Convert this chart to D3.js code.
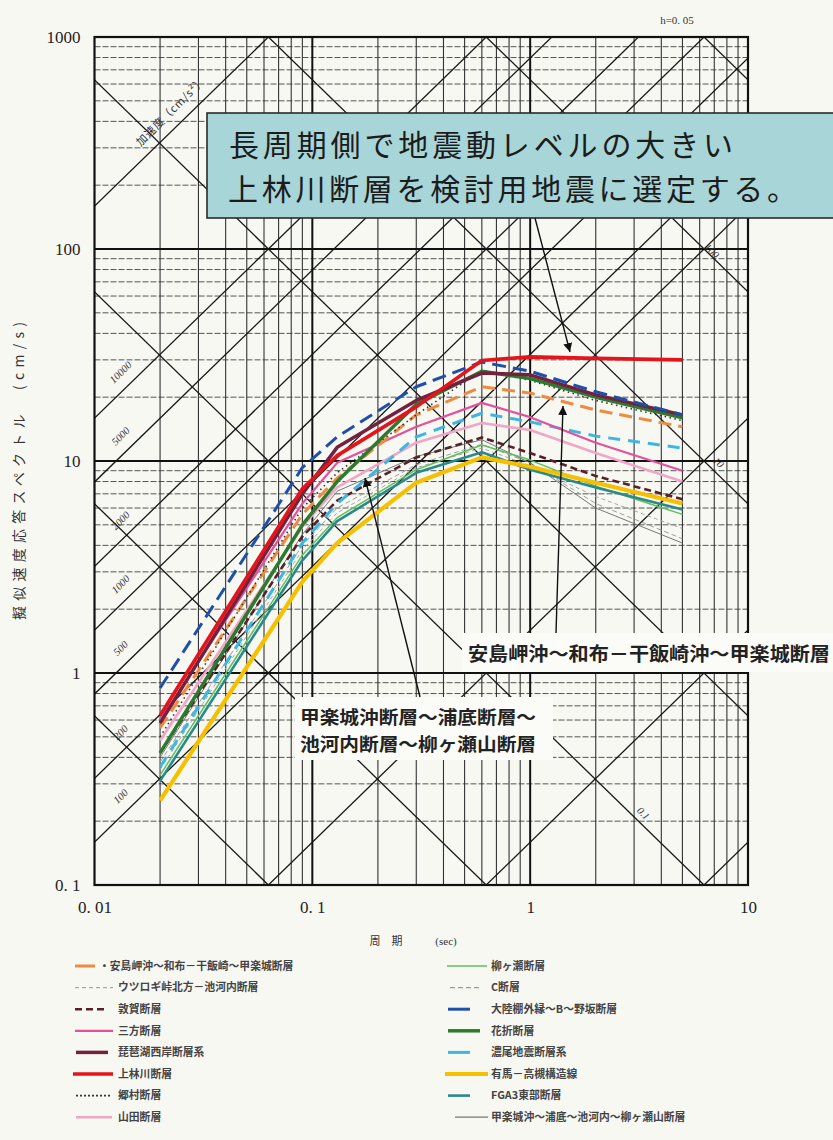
<!DOCTYPE html>
<html><head><meta charset="utf-8">
<script src="https://cdn.jsdelivr.net/npm/d3@7"></script>
<style>
body{margin:0;background:#f8f8f3;}
svg{display:block;}
</style>
</head><body>
<svg id="c" width="833" height="1140"></svg>
<script>
// ---------------- DATA ----------------
const periods = [0.02, 0.09, 0.13, 0.3, 0.6, 1.0, 2.0, 5.0];   // sec (control points)

const sv_anshima   = [0.55, 5.6, 8.3, 16.5, 22.4, 20.9, 17.4, 14.5]; // 安島岬沖～和布－干飯崎～甲楽城断層
const sv_utsurogi  = [0.35, 3.8, 5.7, 9.3, 11.5, 9.5, 6.8, 4.8];    // ウツロギ峠北方－池河内断層
const sv_tsuruga   = [0.42, 4.4, 6.5, 10.4, 12.9, 10.9, 8.5, 6.6];  // 敦賀断層
const sv_mikata    = [0.60, 6.3, 9.8, 14.5, 18.8, 16.1, 12.2, 9.0]; // 三方断層
const sv_biwako    = [0.58, 7.0, 11.6, 19.3, 26.0, 25.5, 20.5, 16.5]; // 琵琶湖西岸断層系
const sv_kambayashi= [0.63, 7.4, 10.6, 18.0, 29.8, 31.0, 30.5, 30.0]; // 上林川断層
const sv_gomura    = [0.50, 6.0, 8.8, 16.5, 26.8, 24.0, 19.3, 15.5]; // 郷村断層
const sv_yamada    = [0.48, 4.9, 7.5, 12.2, 15.1, 14.0, 10.9, 8.0]; // 山田断層
const sv_yanagase  = [0.33, 3.6, 5.4, 9.1, 11.9, 10.1, 7.6, 5.6];   // 柳ヶ瀬断層
const sv_c         = [0.38, 4.0, 6.0, 9.6, 12.0, 9.8, 6.3, 4.3];    // C断層
const sv_tairiku   = [0.85, 9.3, 13.0, 22.4, 29.3, 26.5, 21.2, 16.5]; // 大陸棚外縁～B～野坂断層
const sv_hanaore   = [0.42, 5.0, 8.0, 18.5, 26.5, 24.5, 20.0, 16.0]; // 花折断層
const sv_nobi      = [0.36, 4.1, 6.3, 13.0, 16.8, 15.3, 13.1, 11.5]; // 濃尾地震断層系
const sv_arima     = [0.25, 2.7, 4.1, 7.9, 10.4, 9.4, 7.9, 6.3];    // 有馬－高槻構造線
const sv_fga3      = [0.31, 3.4, 5.2, 8.8, 11.0, 9.1, 7.5, 5.9];    // FGA3東部断層
const sv_kouragi   = [0.40, 4.5, 7.2, 10.5, 12.6, 9.8, 6.0, 4.1];   // 甲楽城沖～浦底～池河内～柳ヶ瀬山断層

const legendNames = [
  "・安島岬沖～和布－干飯崎～甲楽城断層","ウツロギ峠北方－池河内断層","敦賀断層","三方断層",
  "琵琶湖西岸断層系","上林川断層","郷村断層","山田断層",
  "柳ヶ瀬断層","C断層","大陸棚外縁～B～野坂断層","花折断層",
  "濃尾地震断層系","有馬－高槻構造線","FGA3東部断層","甲楽城沖～浦底～池河内～柳ヶ瀬山断層"
];

const xTickValues = [0.01, 0.1, 1, 10];
const xTickLabels = ["0. 01", "0. 1", "1", "10"];
const yTickValues = [0.1, 1, 10, 100, 1000];
const yTickLabels = ["0. 1", "1", "10", "100", "1000"];

const accelLines = [0.1, 1, 10, 100, 200, 500, 1000, 2000, 5000, 10000, 100000]; // cm/s2
const accelLabelValues = [100, 200, 500, 1000, 2000, 5000, 10000];
const dispLines = [0.001, 0.01, 0.1, 1, 10, 100, 1000];  // cm
const dispLabelValues = [0.1, 10, 100];
const dispLabelTexts = ["0.1", "10", "100"];

// ---------------- STYLES ----------------
const seriesData = [sv_anshima, sv_utsurogi, sv_tsuruga, sv_mikata, sv_biwako, sv_kambayashi, sv_gomura, sv_yamada,
                    sv_yanagase, sv_c, sv_tairiku, sv_hanaore, sv_nobi, sv_arima, sv_fga3, sv_kouragi];
const styles = [
  {c:"#ef8a3e", w:3,   d:"13,7",  lw:[75,95],   ld:null},
  {c:"#a8a8a8", w:1,   d:"4,3",   lw:[75,113],  ld:"4,3"},
  {c:"#5a2028", w:2.6, d:"7,4",   lw:[75,108],  ld:"7,4"},
  {c:"#e4519a", w:2.2, d:null,    lw:[75,113],  ld:null},
  {c:"#74203f", w:3.5, d:null,    lw:[76,108],  ld:null},
  {c:"#e5141b", w:3.6, d:null,    lw:[73,113],  ld:null},
  {c:"#333333", w:1.6, d:"1.5,3.5", lw:[76,110], ld:"2,2"},
  {c:"#f0a6c6", w:2.6, d:null,    lw:[76,112],  ld:null},
  {c:"#5fbf5f", w:1.5, d:null,    lw:[447,487], ld:null},
  {c:"#9c9c9c", w:1,   d:"5,3",   lw:[450,482], ld:"5,3"},
  {c:"#1f4fa8", w:3,   d:"14,7",  lw:[448,470], ld:null},
  {c:"#2c7a30", w:3.5, d:null,    lw:[448,480], ld:null},
  {c:"#3db6e0", w:3,   d:"12,8",  lw:[448,470], ld:null},
  {c:"#f4c000", w:4.2, d:null,    lw:[445,488], ld:null},
  {c:"#2a8a8a", w:2.6, d:null,    lw:[448,470], ld:null},
  {c:"#777777", w:1,   d:null,    lw:[455,488], ld:null}
];
// draw order (bottom to top)
const drawOrder = [1,9,15,2,8,14,13,7,12,3,0,6,11,4,10,5];

// ---------------- CHART ----------------
const svg = d3.select("#c");
svg.append("rect").attr("width",833).attr("height",1140).attr("fill","#f8f8f3");

const x = d3.scaleLog().domain([0.01, 10]).range([94.5, 748]);
const y = d3.scaleLog().domain([0.1, 1000]).range([885, 37]);
const [X0, X1] = x.range();
const [Y0, Y1] = y.range(); // Y0 bottom, Y1 top

const defs = svg.append("defs");
defs.append("clipPath").attr("id","pc")
  .append("rect").attr("x",X0).attr("y",Y1).attr("width",X1-X0).attr("height",Y0-Y1);

const grid = svg.append("g").attr("clip-path","url(#pc)");

// horizontal minor grid (dashed)
const hMinor = [];
[0.1,1,10,100].forEach(d=>{for(let k=2;k<=9;k++) hMinor.push(k*d);});
grid.selectAll(".hm").data(hMinor).join("line")
  .attr("x1",X0).attr("x2",X1).attr("y1",d=>y(d)).attr("y2",d=>y(d))
  .attr("stroke","#555").attr("stroke-width",1).attr("stroke-dasharray","6,2");
// vertical minor grid
const vMinor = [];
[0.01,0.1,1].forEach(d=>{for(let k=2;k<=9;k++) vMinor.push(k*d);});
grid.selectAll(".vm").data(vMinor).join("line")
  .attr("x1",d=>x(d)).attr("x2",d=>x(d)).attr("y1",Y0).attr("y2",Y1)
  .attr("stroke","#333").attr("stroke-width",1.1);
// major grid
grid.selectAll(".hM").data([1,10,100]).join("line")
  .attr("x1",X0).attr("x2",X1).attr("y1",d=>y(d)).attr("y2",d=>y(d))
  .attr("stroke","#111").attr("stroke-width",2);
grid.selectAll(".vM").data([0.1,1]).join("line")
  .attr("x1",d=>x(d)).attr("x2",d=>x(d)).attr("y1",Y0).attr("y2",Y1)
  .attr("stroke","#111").attr("stroke-width",2);

// diagonal tripartite lines
const TW = 2*Math.PI;
const tA = 0.001, tB = 100;
grid.selectAll(".acc").data(accelLines).join("line")
  .attr("x1",x(tA)).attr("x2",x(tB))
  .attr("y1",A=>y(A*tA/TW)).attr("y2",A=>y(A*tB/TW))
  .attr("stroke","#151515").attr("stroke-width",1.3);
grid.selectAll(".dsp").data(dispLines).join("line")
  .attr("x1",x(tA)).attr("x2",x(tB))
  .attr("y1",D=>y(D*TW/tA)).attr("y2",D=>y(D*TW/tB))
  .attr("stroke","#151515").attr("stroke-width",1.3);

// diagonal labels
const labG = svg.append("g").attr("font-family","'Liberation Serif', serif").attr("font-style","italic")
  .attr("font-size",10.5).attr("fill","#333").attr("text-anchor","middle");
accelLabelValues.forEach(A=>{
  const px = 131, T = x.invert(px), py = y(A*T/TW);
  labG.append("text").attr("transform",`translate(${px-10.5},${py-10.5}) rotate(-45)`)
    .attr("dy","0.35em").text(A);
});
{
  const px = 181, T = x.invert(px), py = y(100000*T/TW);
  labG.append("text").attr("transform",`translate(${px-10.5},${py-10.5}) rotate(-45)`)
    .attr("dy","0.35em").attr("font-family","'Noto Sans CJK JP'").attr("font-style","normal").attr("font-size",11)
    .attr("textLength",92).attr("lengthAdjust","spacing")
    .text("加速度（cm/s²）");
}
dispLabelValues.forEach((D,i)=>{
  const px = [637,712,709][i], T = x.invert(px), py = y(D*TW/T);
  const off = [6.5,6.5,3][i];
  labG.append("text").attr("transform",`translate(${px+off},${py-off}) rotate(45)`)
    .attr("dy","0.35em").text(dispLabelTexts[i]);
});

// curves
const line = d3.line().x(d=>x(d[0])).y(d=>y(d[1]));
const curveG = svg.append("g").attr("clip-path","url(#pc)").attr("fill","none")
  .attr("stroke-linejoin","round");
drawOrder.forEach(i=>{
  const s = styles[i];
  curveG.append("path").datum(periods.map((t,j)=>[t, seriesData[i][j]]))
    .attr("d",line).attr("stroke",s.c).attr("stroke-width",s.w)
    .attr("stroke-dasharray",s.d);
});

// frame
svg.append("rect").attr("x",X0).attr("y",Y1).attr("width",X1-X0).attr("height",Y0-Y1)
  .attr("fill","none").attr("stroke","#111").attr("stroke-width",2.2);

// axes
const xAxis = svg.append("g").attr("transform",`translate(0,${Y0})`)
  .call(d3.axisBottom(x).tickValues(xTickValues).tickFormat((d,i)=>xTickLabels[i]).tickSize(0).tickPadding(16));
const yAxis = svg.append("g").attr("transform",`translate(${X0},0)`)
  .call(d3.axisLeft(y).tickValues(yTickValues).tickFormat((d,i)=>yTickLabels[i]).tickSize(0).tickPadding(14));
[xAxis,yAxis].forEach(a=>{
  a.select(".domain").remove();
  a.selectAll("text").attr("font-family","'Liberation Serif', serif").attr("font-size",17).attr("fill","#222");
});

// axis titles
svg.append("text").attr("transform","translate(24,620) rotate(-90)")
  .attr("font-family","'Noto Sans CJK JP'").attr("font-size",14).attr("fill","#333")
  .attr("textLength",298).attr("lengthAdjust","spacing")
  .text("擬似速度応答スペクトル　(cm/s)");
svg.append("text").attr("x",386).attr("y",945).attr("text-anchor","middle")
  .attr("font-family","'Noto Sans CJK JP'").attr("font-size",11).attr("fill","#333").text("周　期");
svg.append("text").attr("x",446).attr("y",945).attr("text-anchor","middle")
  .attr("font-family","'Liberation Serif', serif").attr("font-size",11).attr("fill","#333").text("(sec)");
svg.append("text").attr("x",677).attr("y",24).attr("text-anchor","middle")
  .attr("font-family","'Liberation Serif', serif").attr("font-size",11).attr("fill","#333").text("h=0. 05");

// annotation boxes
const ann = svg.append("g").attr("font-family","'Noto Sans CJK JP'");
ann.append("rect").attr("x",207).attr("y",113).attr("width",640).attr("height",105)
  .attr("fill","#a7d5d8").attr("stroke","#2a2a2a").attr("stroke-width",1.6);
ann.append("text").attr("x",229).attr("y",156).attr("font-size",30).attr("fill","#1c1c1c")
  .attr("textLength",504).attr("lengthAdjust","spacing").text("長周期側で地震動レベルの大きい");
ann.append("text").attr("x",228).attr("y",200).attr("font-size",30).attr("fill","#1c1c1c")
  .attr("textLength",569).attr("lengthAdjust","spacing").text("上林川断層を検討用地震に選定する。");

ann.append("rect").attr("x",462).attr("y",633).attr("width",380).attr("height",39).attr("fill","#fbfbf8");
ann.append("text").attr("x",468).attr("y",661).attr("font-size",19).attr("font-weight","bold").attr("fill","#222")
  .attr("textLength",362).attr("lengthAdjust","spacingAndGlyphs").text("安島岬沖～和布－干飯崎沖～甲楽城断層");

ann.append("rect").attr("x",295).attr("y",697).attr("width",258).attr("height",63).attr("fill","#fbfbf8");
ann.append("text").attr("x",300).attr("y",724).attr("font-size",18).attr("font-weight","bold").attr("fill","#222")
  .attr("textLength",236).attr("lengthAdjust","spacingAndGlyphs").text("甲楽城沖断層～浦底断層～");
ann.append("text").attr("x",300).attr("y",751).attr("font-size",18).attr("font-weight","bold").attr("fill","#222")
  .attr("textLength",236).attr("lengthAdjust","spacingAndGlyphs").text("池河内断層～柳ヶ瀬山断層");

// arrows
defs.append("marker").attr("id","ah").attr("viewBox","0 0 10 10")
  .attr("refX",10).attr("refY",5).attr("markerWidth",9).attr("markerHeight",9)
  .attr("markerUnits","userSpaceOnUse").attr("orient","auto")
  .append("path").attr("d","M0,0 L10,5 L0,10 z").attr("fill","#111");
const arrows = [[535,218,570,352],[556,633,563,406],[420,697,365,478]];
svg.selectAll(".arr").data(arrows).join("line")
  .attr("x1",d=>d[0]).attr("y1",d=>d[1]).attr("x2",d=>d[2]).attr("y2",d=>d[3])
  .attr("stroke","#111").attr("stroke-width",1.4).attr("marker-end","url(#ah)");

// legend
const leg = svg.append("g");
legendNames.forEach((name,i)=>{
  const col = i<8 ? 0 : 1, row = i%8;
  const yy = 966 + row*21.6;
  const s = styles[i];
  leg.append("line").attr("x1",s.lw[0]).attr("x2",s.lw[1]).attr("y1",yy).attr("y2",yy)
    .attr("stroke",s.c).attr("stroke-width",Math.max(s.w,1.2)).attr("stroke-dasharray",s.ld);
  leg.append("text").attr("x",col===0? (i===0?99:118) : 491).attr("y",yy).attr("dy","0.35em")
    .attr("font-family","'Noto Sans CJK JP'").attr("font-size",10.8).attr("font-weight","bold")
    .attr("fill","#444").text(name);
});
</script>
</body></html>
